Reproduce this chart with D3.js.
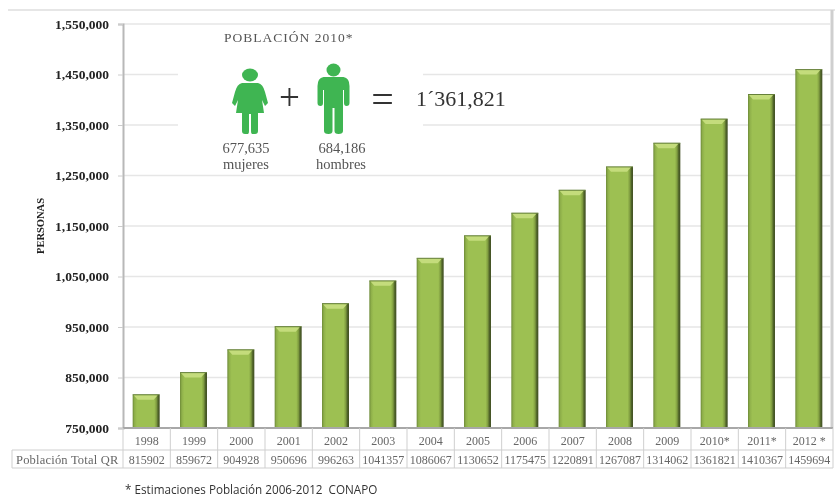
<!DOCTYPE html>
<html>
<head>
<meta charset="utf-8">
<script src="https://cdn.jsdelivr.net/npm/d3@7"></script>
<style>
  html, body { margin: 0; padding: 0; background: #fff; }
  svg { display: block; filter: blur(0.4px); }
  text { font-family: "Liberation Serif", serif; fill: #333; }
</style>
</head>
<body>
<div id="chart"></div>
<script>
// chart data
const years = ["1998","1999","2000","2001","2002","2003","2004","2005","2006","2007","2008","2009","2010","2011","2012"];
const yearLabels = ["1998","1999","2000","2001","2002","2003","2004","2005","2006","2007","2008","2009","2010*","2011*","2012 *"];
const poblacion = [815902,859672,904928,950696,996263,1041357,1086067,1130652,1175475,1220891,1267087,1314062,1361821,1410367,1459694];
const yTicks = [750000,850000,950000,1050000,1150000,1250000,1350000,1450000,1550000];

const width = 835, height = 498;
const margin = {top: 24, bottom: 70, left: 123, right: 2};

const svg = d3.select("#chart").append("svg")
    .attr("width", width)
    .attr("height", height);

const xScale = d3.scaleBand()
    .domain(years)
    .range([margin.left, width - margin.right]);

const yScale = d3.scaleLinear()
    .domain([750000, 1550000])
    .range([height - margin.bottom, margin.top]);

const base = yScale(750000);

// bar fill, dark right edge like the bevel in the original
const defs = svg.append("defs");
const grad = defs.append("linearGradient").attr("id", "barFill");
[[0,"#6d8a38"],[0.07,"#8fb04a"],[0.16,"#9dc052"],[0.8,"#9dc052"],[0.88,"#7f9c40"],[0.94,"#4f6329"],[1,"#414f24"]].forEach(s => {
  grad.append("stop").attr("offset", s[0]).attr("stop-color", s[1]);
});

// frame lines
svg.append("line").attr("x1", 8).attr("x2", width).attr("y1", 10).attr("y2", 10)
    .attr("stroke", "#e6e6e6").attr("stroke-width", 2);
svg.append("line").attr("x1", 832).attr("x2", 832).attr("y1", 10).attr("y2", base)
    .attr("stroke", "#cfcfcf").attr("stroke-width", 3);

// gridlines
svg.append("g").selectAll("line")
    .data(yTicks.slice(1))
    .enter().append("line")
    .attr("x1", margin.left)
    .attr("x2", width - 4)
    .attr("y1", d => yScale(d))
    .attr("y2", d => yScale(d))
    .attr("stroke", "#e6e6e6")
    .attr("stroke-width", 1.5);

// the inset sits over the gridlines
svg.append("rect").attr("x", 178).attr("y", 60).attr("width", 245).attr("height", 80).attr("fill", "#fff");

// y axis
const yAxis = svg.append("g")
    .attr("transform", "translate(" + margin.left + ",0)")
    .call(d3.axisLeft(yScale).tickValues(yTicks).tickFormat(d3.format(",")).tickSize(5).tickPadding(9));
yAxis.select(".domain").attr("stroke", "#b8b8b8").attr("stroke-width", 2);
yAxis.selectAll(".tick line").attr("stroke", "#cccccc");
yAxis.selectAll("text")
    .style("font-family", "'Liberation Serif', serif")
    .style("font-size", "13.5px")
    .style("font-weight", "bold")
    .style("fill", "#222");

svg.append("text")
    .attr("transform", "translate(44,226) rotate(-90)")
    .attr("text-anchor", "middle")
    .style("font-size", "10.5px")
    .style("font-weight", "bold")
    .style("fill", "#222")
    .text("PERSONAS");

// bars
const barW = 27;
const bars = svg.append("g").selectAll("g")
    .data(poblacion)
    .enter().append("g")
    .attr("transform", (d, i) => "translate(" + (xScale(years[i]) + (xScale.bandwidth() - barW) / 2 - 0.5) + "," + yScale(d) + ")");

bars.append("rect")
    .attr("width", barW)
    .attr("height", d => base - yScale(d))
    .attr("fill", "url(#barFill)");

// top bevel
bars.append("path")
    .attr("d", "M1,0.5H" + (barW - 2) + "L" + (barW - 6) + ",5H5Z")
    .attr("fill", "#c4dc7c");
bars.append("path")
    .attr("d", "M0,0H" + barW)
    .attr("stroke", "#66803a")
    .attr("stroke-width", 1);

// baseline
svg.append("line").attr("x1", margin.left).attr("x2", width - 2).attr("y1", base).attr("y2", base)
    .attr("stroke", "#a8a8a8").attr("stroke-width", 2);

// table under the chart
const tableTop = base, row1 = 450, row2 = 468, tableLeft = 12;
const tableColor = "#cfcfcf";
const table = svg.append("g").attr("stroke", tableColor).attr("stroke-width", 1);
table.append("line").attr("x1", tableLeft).attr("x2", width - 2).attr("y1", row1).attr("y2", row1);
table.append("line").attr("x1", tableLeft).attr("x2", width - 2).attr("y1", row2).attr("y2", row2);
table.append("line").attr("x1", tableLeft).attr("x2", tableLeft).attr("y1", row1).attr("y2", row2);
table.selectAll(".cell")
    .data(years)
    .enter().append("line")
    .attr("class", "cell")
    .attr("x1", d => xScale(d))
    .attr("x2", d => xScale(d))
    .attr("y1", tableTop)
    .attr("y2", row2);
table.append("line").attr("x1", width - 2).attr("x2", width - 2).attr("y1", tableTop).attr("y2", row2);

svg.append("g").selectAll("text")
    .data(yearLabels)
    .enter().append("text")
    .attr("x", (d, i) => xScale(years[i]) + xScale.bandwidth() / 2)
    .attr("y", 445)
    .attr("text-anchor", "middle")
    .style("font-size", "12px")
    .style("fill", "#666")
    .text(d => d);

svg.append("g").selectAll("text")
    .data(poblacion)
    .enter().append("text")
    .attr("x", (d, i) => xScale(years[i]) + xScale.bandwidth() / 2)
    .attr("y", 464)
    .attr("text-anchor", "middle")
    .style("font-size", "12px")
    .style("fill", "#666")
    .text(d => d);

svg.append("text").attr("x", 16).attr("y", 464)
    .style("font-size", "12.5px").style("fill", "#666").style("letter-spacing", "0.2px")
    .text("Población Total QR");

// footnote
svg.append("text").attr("x", 125).attr("y", 494)
    .style("font-family", "'Open Sans', sans-serif")
    .style("font-size", "11.7px")
    .style("fill", "#333")
    .style("white-space", "pre")
    .text("* Estimaciones Población 2006-2012  CONAPO");

// inset: poblacion 2010
const green = "#3fb552";
svg.append("text").attr("x", 224).attr("y", 42)
    .style("font-size", "13.5px").style("fill", "#555").style("letter-spacing", "1px")
    .text("POBLACIÓN 2010*");

const woman = svg.append("g").attr("transform", "translate(250,0)").attr("fill", green);
woman.append("ellipse").attr("cx", 0).attr("cy", 75).attr("rx", 8).attr("ry", 6.5);
woman.append("path").attr("d", "M-8,83H8Q13,84 15,92L18,103L15,106L12,100L14,113H8V131Q8,134 5,134H2Q1,134 1,131V114H-1V131Q-1,134 -2,134H-5Q-8,134 -8,131V113H-14L-12,100L-15,106L-18,103L-15,92Q-13,84 -8,83Z");

const man = svg.append("g").attr("transform", "translate(333.5,0)").attr("fill", green);
man.append("ellipse").attr("cx", 0).attr("cy", 70).attr("rx", 7).attr("ry", 6.5);
man.append("path").attr("d", "M-10,77H10Q16,78 16,86V103Q16,106 13,106Q10.5,106 10.5,103V90H9.5V131Q9.5,134 5,134Q1,134 1,131V108H-1V131Q-1,134 -5,134Q-9.5,134 -9.5,131V90H-10.5V103Q-10.5,106 -13,106Q-16,106 -16,103V86Q-16,78 -10,77Z");

svg.append("text").attr("x", 289.5).attr("y", 110).attr("text-anchor", "middle")
    .style("font-size", "37px").text("+");
svg.append("text").attr("x", 382.5).attr("y", 112.5).attr("text-anchor", "middle")
    .style("font-size", "40px").text("=");
svg.append("text").attr("x", 416).attr("y", 105.5)
    .style("font-size", "22px").text("1´361,821");

const insetLabels = [["677,635", 246, 152.5], ["mujeres", 246, 169], ["684,186", 342, 152.5], ["hombres", 341, 169]];
svg.append("g").selectAll("text")
    .data(insetLabels)
    .enter().append("text")
    .attr("x", d => d[1])
    .attr("y", d => d[2])
    .attr("text-anchor", "middle")
    .style("font-size", "14.5px")
    .style("fill", "#555")
    .text(d => d[0]);
</script>
</body>
</html>
